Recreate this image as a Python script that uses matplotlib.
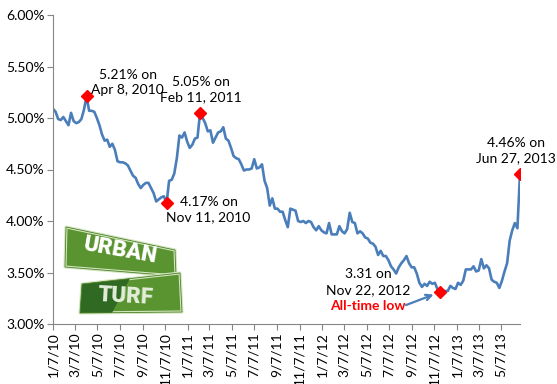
import matplotlib
matplotlib.use("Agg")
import matplotlib.pyplot as plt
import matplotlib.patches as mpatches
import numpy as np
import pandas as pd

plt.rcParams['font.family'] = ['Lato', 'DejaVu Sans']

# weekly 30-year fixed rate, %
rates_2010 = [5.09, 5.06, 4.99, 4.98, 5.01, 4.97, 4.93, 5.05, 4.97, 4.95, 4.96, 4.99, 5.08,
              5.21, 5.07, 5.07, 5.06, 5.00, 4.93, 4.84, 4.78, 4.79, 4.72, 4.75, 4.69, 4.58,
              4.57, 4.57, 4.56, 4.54, 4.49, 4.44, 4.42, 4.36, 4.32, 4.35, 4.37, 4.37, 4.32,
              4.27, 4.19, 4.21, 4.23, 4.24, 4.17, 4.39, 4.40, 4.46, 4.61, 4.83, 4.81, 4.86]
rates_2011 = [4.77, 4.71, 4.74, 4.80, 4.81, 5.05, 5.00, 4.95, 4.87, 4.88, 4.76, 4.81, 4.86,
              4.87, 4.91, 4.80, 4.78, 4.71, 4.63, 4.61, 4.60, 4.55, 4.49, 4.50, 4.50, 4.51,
              4.60, 4.51, 4.52, 4.55, 4.39, 4.32, 4.15, 4.22, 4.12, 4.12, 4.09, 4.09, 4.01,
              3.94, 4.12, 4.11, 4.10, 4.00, 3.99, 4.00, 3.98, 4.00, 3.99, 3.94, 3.91, 3.95]
rates_2012 = [3.91, 3.89, 3.88, 3.98, 3.87, 3.87, 3.87, 3.95, 3.90, 3.88, 3.92, 4.08, 3.99,
              3.98, 3.88, 3.90, 3.88, 3.84, 3.83, 3.79, 3.78, 3.75, 3.67, 3.71, 3.66, 3.66,
              3.62, 3.56, 3.53, 3.49, 3.55, 3.59, 3.62, 3.66, 3.59, 3.55, 3.55, 3.49, 3.40,
              3.36, 3.39, 3.37, 3.41, 3.39, 3.40, 3.34, 3.31, 3.32, 3.32, 3.32, 3.37, 3.35]
rates_2013 = [3.34, 3.40, 3.38, 3.42, 3.53, 3.53, 3.53, 3.56, 3.51, 3.52, 3.63, 3.54, 3.57,
              3.54, 3.43, 3.41, 3.40, 3.35, 3.42, 3.51, 3.59, 3.81, 3.91, 3.98, 3.93, 4.46]

tick_labels = ["1/7/10", "3/7/10", "5/7/10", "7/7/10", "9/7/10", "11/7/10",
               "1/7/11", "3/7/11", "5/7/11", "7/7/11", "9/7/11", "11/7/11",
               "1/7/12", "3/7/12", "5/7/12", "7/7/12", "9/7/12", "11/7/12",
               "1/7/13", "3/7/13", "5/7/13"]

# highlighted weeks (index into the weekly series) and their labels
point_idx = [13, 44, 57, 150, 181]
point_text = ["5.21% on\nApr 8, 2010", "4.17% on\nNov 11, 2010", "5.05% on\nFeb 11, 2011",
              "3.31 on\nNov 22, 2012", "4.46% on\nJun 27, 2013"]

rates = np.array(rates_2010 + rates_2011 + rates_2012 + rates_2013)
dates = pd.date_range("2010-01-07", periods=len(rates), freq="7D")
tick_pos = pd.to_datetime(tick_labels, format="%m/%d/%y")

fig = plt.figure(figsize=(5.57, 3.84), dpi=100)
ax = fig.add_axes([53 / 557, 60 / 384, 467 / 557, 309 / 384])

ax.plot(dates, rates, color="#4a7ebb", lw=1.9, solid_joinstyle="round", zorder=2)
ax.plot(dates[point_idx], rates[point_idx], "D", color="red", ms=6.5, zorder=3)

ax.set_xlim(dates[0], dates[-1])
ax.set_ylim(3, 6)
ax.set_yticks(np.arange(3, 6.01, 0.5))
ax.set_yticklabels(["%.2f%%" % v for v in np.arange(3, 6.01, 0.5)], fontsize=10)
ax.set_xticks(tick_pos)
ax.set_xticklabels(tick_labels, rotation=90, fontsize=10)
for s in ["top", "right"]:
    ax.spines[s].set_visible(False)
for s in ["left", "bottom"]:
    ax.spines[s].set_color("#868686")
ax.tick_params(direction="out", length=4, color="#868686", pad=2)

offsets = [(41, 14), (42, -6), (1, 23), (-72, 10), (-4, 23)]
for i, t, off in zip(point_idx, point_text, offsets):
    ax.annotate(t, (dates[i], rates[i]), xytext=off, textcoords="offset pixels",
                ha="center", va="center", fontsize=10, linespacing=1.35)

i_low = point_idx[3]
ax.annotate("All-time low", (dates[i_low], rates[i_low]), xytext=(-72, -14),
            textcoords="offset pixels", ha="center", va="center",
            fontsize=10, color="red", fontweight="bold")
ax.annotate("", (dates[i_low], rates[i_low]), xytext=(-34, -13),
            textcoords="offset pixels",
            arrowprops=dict(arrowstyle="->", color="#4a7ebb", lw=1.6,
                            shrinkA=0, shrinkB=5, mutation_scale=10))

# Urban Turf logo, drawn in pixel space
lg = fig.add_axes([0, 0, 1, 1], zorder=5)
lg.set_xlim(0, 557)
lg.set_ylim(384, 0)
lg.axis("off")
lg.patch.set_alpha(0)

green = "#5a9430"
dark = "#2f6922"
rim = "#d3e6bf"
upper = [(66, 227), (175, 250), (176, 276), (65, 267)]
lg.add_patch(mpatches.Polygon(upper, closed=True, fc=green, ec=rim, lw=2.2, joinstyle="round"))
lg.add_patch(mpatches.Polygon(upper, closed=True, fc="none", ec="#4d7f2a", lw=0.6))
lg.text(121, 251, "URBAN", color="white", fontsize=16, fontweight="black",
        family="Roboto", ha="center", va="center", rotation=-10)

lower = [(82, 284), (180, 273), (182, 312), (80, 313)]
lg.add_patch(mpatches.Polygon(lower, closed=True, fc=green, ec=rim, lw=2.2, joinstyle="round"))
lg.add_patch(mpatches.Polygon([(82, 284), (130, 278.5), (112, 313), (80, 313)],
                              closed=True, fc=dark, ec="none"))
lg.add_patch(mpatches.Polygon(lower, closed=True, fc="none", ec="#4d7f2a", lw=0.6))
lg.text(126, 296, "TURF", color="#e4eedb", fontsize=16, fontweight="black",
        family="Roboto", ha="center", va="center", rotation=-3)

fig.savefig("out.png", dpi=100)
